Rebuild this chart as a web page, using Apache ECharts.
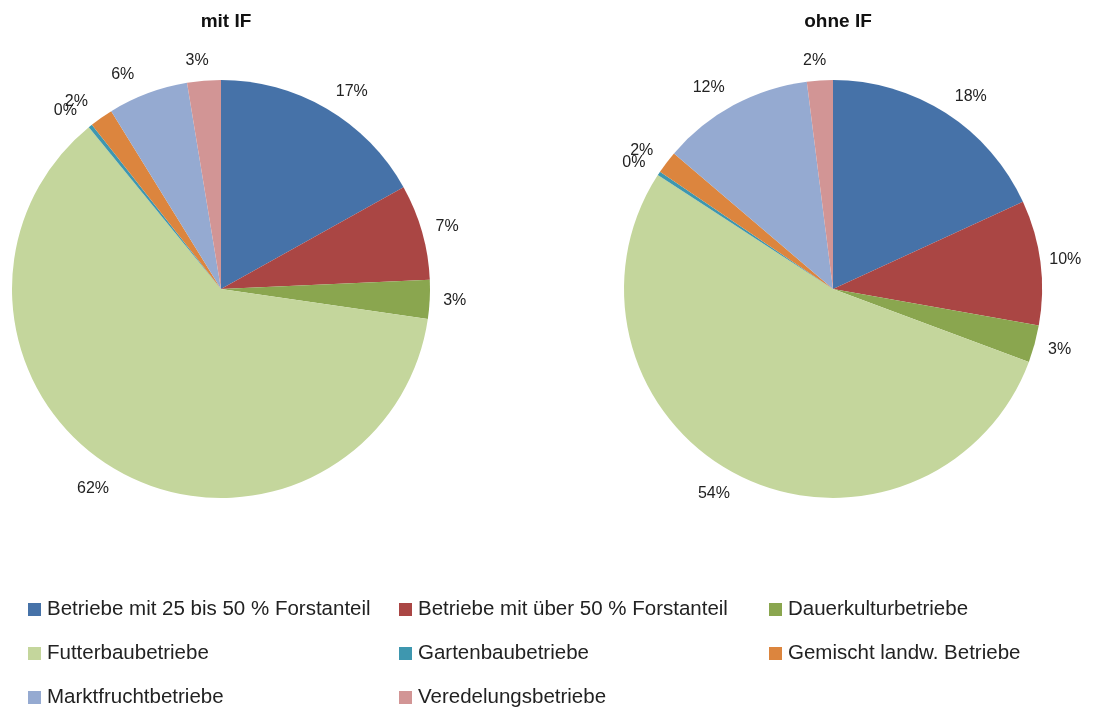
<!DOCTYPE html>
<html>
<head>
<meta charset="utf-8">
<script src="https://cdn.jsdelivr.net/npm/echarts@6/dist/echarts.min.js"></script>
<style>
html,body{margin:0;padding:0;background:#fff;}
#chart{width:1093px;height:709px;}
</style>
</head>
<body>
<div id="chart"></div>
<script>
// Data
const categories = [
  'Betriebe mit 25 bis 50 % Forstanteil',
  'Betriebe mit über 50 % Forstanteil',
  'Dauerkulturbetriebe',
  'Futterbaubetriebe',
  'Gartenbaubetriebe',
  'Gemischt landw. Betriebe',
  'Marktfruchtbetriebe',
  'Veredelungsbetriebe'
];
const titles = ['mit IF', 'ohne IF'];
const valuesMitIF  = [16.9, 7.4, 3.0, 61.8, 0.3, 1.8, 6.2, 2.6];
const valuesOhneIF = [18.15, 9.65, 2.87, 53.5, 0.3, 1.76, 11.76, 2.0];
const colors = ['#4672A8', '#AA4644', '#8AA64F', '#C4D69C', '#3E97AF', '#DC853E', '#95AAD1', '#D29595'];

const legendCols = [
  [categories[0], categories[3], categories[6]],
  [categories[1], categories[4], categories[7]],
  [categories[2], categories[5]]
];

// Excel-like "outside end" placement: offset from the rim point
const LABEL_DX = 25;
const LABEL_DY = 20;

function labelLayout(params) {
  const pts = params.labelLinePoints;
  if (!pts || pts.length < 2) return { hideOverlap: false };
  const p0 = pts[0], p1 = pts[1];
  let dx = p1[0] - p0[0], dy = p1[1] - p0[1];
  const len = Math.sqrt(dx * dx + dy * dy) || 1;
  dx /= len; dy /= len;
  const hx = Math.sign(dx) * LABEL_DX * Math.min(1, Math.abs(dx) / 0.3);
  return {
    x: p0[0] + hx,
    y: p0[1] + dy * LABEL_DY,
    align: 'center',
    verticalAlign: 'middle',
    hideOverlap: false
  };
}

function makeSeries(name, values, cx) {
  return {
    type: 'pie',
    name: name,
    center: [cx, 289],
    radius: 209,
    startAngle: 90,
    clockwise: true,
    avoidLabelOverlap: false,
    minShowLabelAngle: 0,
    animation: false,
    emphasis: { disabled: true },
    data: categories.map((c, i) => ({ name: c, value: values[i], itemStyle: { color: colors[i] } })),
    label: {
      show: true,
      position: 'outside',
      formatter: p => Math.round(p.value) + '%',
      fontFamily: 'Liberation Sans, Arial, sans-serif',
      fontSize: 16,
      color: '#222'
    },
    labelLine: { show: true, length: 20, length2: 0, lineStyle: { opacity: 0, width: 0 } },
    labelLayout: labelLayout
  };
}

const chart = echarts.init(document.getElementById('chart'), null, { renderer: 'canvas' });
const legendBase = {
  orient: 'vertical',
  icon: 'rect',
  itemWidth: 13,
  itemHeight: 13,
  itemGap: 23,
  padding: 0,
  selectedMode: false,
  top: 599,
  height: 110,
  textStyle: {
    fontFamily: 'Liberation Sans, Arial, sans-serif',
    fontSize: 20.5,
    lineHeight: 20,
    color: '#222',
    padding: [0, 0, 0, 1]
  }
};
chart.setOption({
  backgroundColor: '#fff',
  title: [
    { text: titles[0], left: 221, top: 7, textAlign: 'center',
      textStyle: { fontFamily: 'Liberation Sans, Arial, sans-serif', fontWeight: 'bold', fontSize: 19, color: '#111' } },
    { text: titles[1], left: 833, top: 7, textAlign: 'center',
      textStyle: { fontFamily: 'Liberation Sans, Arial, sans-serif', fontWeight: 'bold', fontSize: 19, color: '#111' } }
  ],
  legend: [
    Object.assign({}, legendBase, { left: 28, data: legendCols[0] }),
    Object.assign({}, legendBase, { left: 399, data: legendCols[1] }),
    Object.assign({}, legendBase, { left: 769, data: legendCols[2] })
  ],
  series: [
    makeSeries(titles[0], valuesMitIF, 221),
    makeSeries(titles[1], valuesOhneIF, 833)
  ]
});
</script>
</body>
</html>
